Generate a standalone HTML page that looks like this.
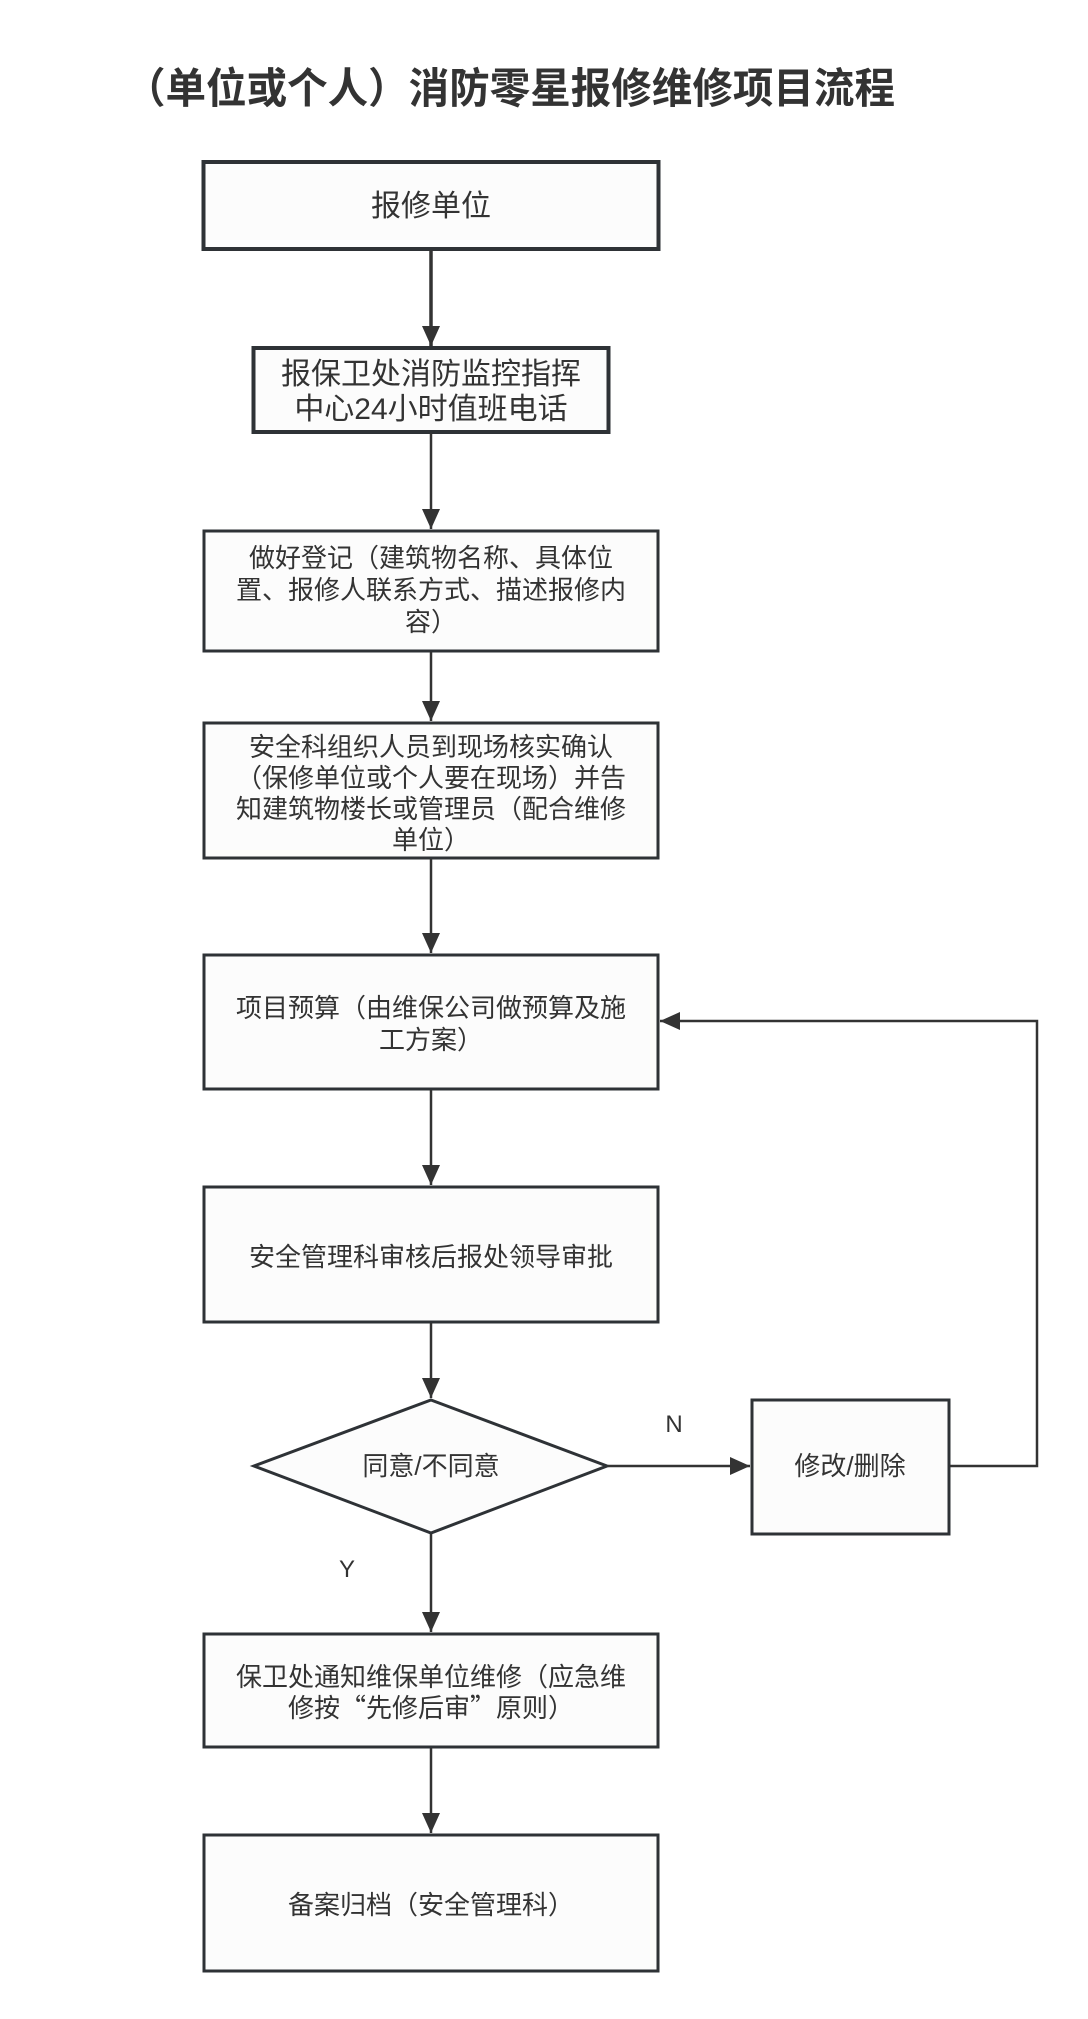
<!DOCTYPE html>
<html><head><meta charset="utf-8"><style>
html,body{margin:0;padding:0;background:#fff;}
svg{display:block;}
text{font-family:"Liberation Sans","Noto Sans CJK SC",sans-serif;fill:#333;}
.cjk{font-family:"Noto Sans CJK SC",sans-serif;}
</style></head><body>
<svg width="1088" height="2019" viewBox="0 0 1088 2019" xmlns="http://www.w3.org/2000/svg">
<defs>
<marker id="a" viewBox="0 0 10 10" refX="10" refY="5" markerWidth="20" markerHeight="20" markerUnits="userSpaceOnUse" orient="auto">
<path d="M0,0.5 L10,5 L0,9.5 z" fill="#333"/></marker>
</defs>
<text x="125" y="103" font-size="42" font-weight="bold" textLength="770" lengthAdjust="spacingAndGlyphs">（单位或个人）消防零星报修维修项目流程</text>

<g fill="#fcfcfc" stroke="#2e3236">
<rect x="203.5" y="162" width="455" height="87" stroke-width="4"/>
<rect x="253.5" y="348" width="355" height="84" stroke-width="4"/>
<rect x="204" y="531" width="454" height="120" stroke-width="3"/>
<rect x="204" y="723" width="454" height="135" stroke-width="3"/>
<rect x="204" y="955" width="454" height="134" stroke-width="3"/>
<rect x="204" y="1187" width="454" height="135" stroke-width="3"/>
<polygon points="431,1400 607,1466 431,1533 254,1466" stroke-width="3"/>
<rect x="752" y="1400" width="197" height="134" stroke-width="3"/>
<rect x="204" y="1634" width="454" height="113" stroke-width="3"/>
<rect x="204" y="1835" width="454" height="136" stroke-width="3"/>
</g>

<g stroke="#333" stroke-width="2.5" fill="none" marker-end="url(#a)">
<line x1="431" y1="250" x2="431" y2="346" stroke-width="3.5"/>
<line x1="431" y1="433" x2="431" y2="529"/>
<line x1="431" y1="652" x2="431" y2="721"/>
<line x1="431" y1="859" x2="431" y2="953"/>
<line x1="431" y1="1090" x2="431" y2="1185"/>
<line x1="431" y1="1323" x2="431" y2="1398"/>
<line x1="608" y1="1466" x2="750" y2="1466"/>
<polyline points="950,1466 1037,1466 1037,1021 660,1021"/>
<line x1="431" y1="1534" x2="431" y2="1632"/>
<line x1="431" y1="1748" x2="431" y2="1833"/>
</g>

<g font-size="30" text-anchor="middle">
<text x="431" y="216">报修单位</text>
<text x="431" y="384">报保卫处消防监控指挥</text>
<text x="431" y="419">中心24小时值班电话</text>
</g>
<g font-size="26" text-anchor="middle">
<text x="431" y="567">做好登记（建筑物名称、具体位</text>
<text x="431" y="599">置、报修人联系方式、描述报修内</text>
<text x="431" y="631">容）</text>
<text x="431" y="756">安全科组织人员到现场核实确认</text>
<text x="431" y="787">（保修单位或个人要在现场）并告</text>
<text x="431" y="818">知建筑物楼长或管理员（配合维修</text>
<text x="431" y="849">单位）</text>
<text x="431" y="1017">项目预算（由维保公司做预算及施</text>
<text x="431" y="1049">工方案）</text>
<text x="431" y="1266">安全管理科审核后报处领导审批</text>
<text x="431" y="1475">同意/不同意</text>
<text x="850" y="1475">修改/删除</text>
<text x="431" y="1686">保卫处通知维保单位维修（应急维</text>
<text x="431" y="1717" class="cjk">修按“先修后审”原则）</text>
<text x="431" y="1914">备案归档（安全管理科）</text>
</g>
<text x="674" y="1432" font-size="24" text-anchor="middle">N</text>
<text x="347" y="1577" font-size="24" text-anchor="middle">Y</text>
</svg>
</body></html>
